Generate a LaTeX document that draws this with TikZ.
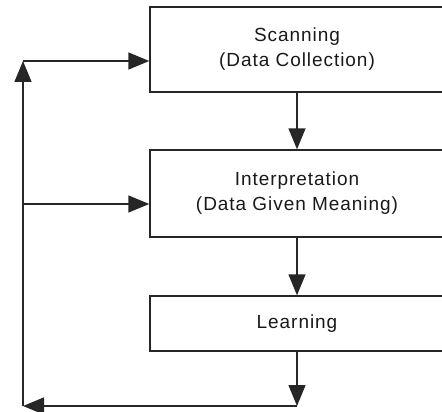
\documentclass[tikz,border=0pt]{standalone}
\usepackage{fontspec}
\setmainfont{Liberation Sans}[LetterSpace=5]
\usetikzlibrary{arrows.meta}
\begin{document}
\begin{tikzpicture}[
  x=1pt, y=1pt,
  every node/.style={font=\fontsize{19}{25}\selectfont, align=center, text=black!90},
  etapa/.style={rectangle, draw=black!85, line width=1.4pt, minimum width=294pt, inner sep=0pt},
  fluxo/.style={draw=black!85, line width=1.4pt},
  seta/.style={fluxo, -{Triangle[length=21pt, width=17pt]}}
]
\clip (0,0) rectangle (442,-412);
% Etapas
\node[etapa, minimum height=85pt] (scan) at (297,-49.5) {Scanning\\(Data Collection)};
\node[etapa, minimum height=87pt] (interp) at (297,-193.5) {Interpretation\\(Data Given Meaning)};
\node[etapa, minimum height=55pt] (learn) at (297,-323.5) {Learning};
% Pontos do retorno
\coordinate (fb) at (297,-406);
\coordinate (bl) at (23,-406);
\coordinate (tl) at (23,-61);
\coordinate (ml) at (23,-204);
% Sequencia
\draw[seta] (scan) -- (interp);
\draw[seta] (interp) -- (learn);
\draw[seta] (learn) -- (fb);
% Retorno
\draw[seta] (fb) -- (bl);
\draw[seta] (bl) -- (tl);
\draw[seta] (tl) -- (tl -| scan.west);
\draw[seta] (ml) -- (ml -| interp.west);
\end{tikzpicture}
\end{document}
